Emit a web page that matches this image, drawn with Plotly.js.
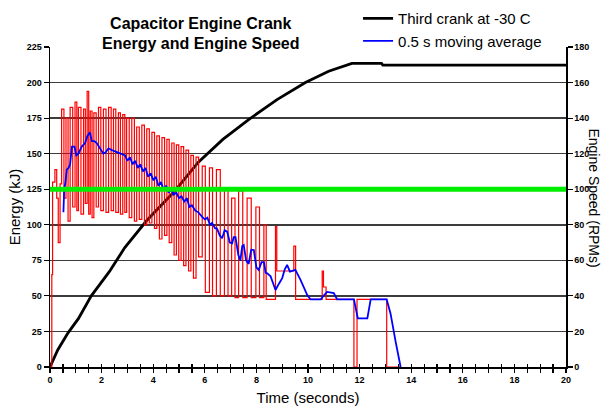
<!DOCTYPE html>
<html>
<head>
<meta charset="utf-8">
<script src="https://cdn.plot.ly/plotly-3.0.1.min.js"></script>
<style>html,body{margin:0;padding:0;background:#fff;}#chart{width:603px;height:408px;}</style>
</head>
<body>
<div id="chart"></div>
<script>
// Energy (kJ), third crank at -30 C
const energyT = [0, 0.1, 0.3, 0.7, 1.1, 1.6, 2.3, 2.9, 3.75, 4.8, 5.75, 6.7, 7.7, 8.8, 9.9, 10.8, 11.7, 12.85, 12.9, 20];
const energyV = [0, 4, 12, 24, 34, 50, 67, 84, 103, 123, 144, 160, 174, 188, 200, 208, 213.5, 213.5, 212.3, 212.3];

// Engine speed (RPM), raw
const speedT = [0, 0.07, 0.10, 0.19, 0.26, 0.32, 0.39, 0.45, 0.54, 0.62, 0.70, 0.78, 0.88, 0.97, 1.04, 1.10, 1.20, 1.30, 1.37, 1.44,
  1.50, 1.56, 1.63, 1.70, 1.79, 1.88, 1.97, 2.07, 2.17, 2.27, 2.37, 2.46, 2.55, 2.65, 2.73, 2.82, 2.90, 2.97, 3.07, 3.17,
  3.27, 3.36, 3.46, 3.56, 3.66, 3.75, 3.85, 3.95, 4.05, 4.14, 4.24, 4.34, 4.44, 4.53, 4.62, 4.72, 4.81, 4.90, 4.99, 5.08,
  5.18, 5.27, 5.37, 5.46, 5.56, 5.66, 5.76, 5.90, 6.02, 6.18, 6.30, 6.45, 6.60, 6.76, 6.90, 7.04, 7.17, 7.31, 7.47, 7.64,
  7.80, 7.98, 8.12, 8.29, 8.38, 8.74, 8.79, 9.45, 9.52, 10.55, 10.60, 10.70, 11.78, 11.90, 13.05, 13.6];
const speedV = [0, 52, 104, 111, 95, 70, 103, 145, 95, 140, 82, 146, 90, 149, 88, 146, 86, 145, 92, 155,
  86, 144, 84, 143, 90, 146, 88, 145, 87, 146, 88, 145, 87, 143, 86, 142, 87, 140, 84, 140,
  82, 135, 83, 136, 80, 134, 81, 132, 78, 130, 72, 129, 74, 128, 70, 126, 63, 125, 60, 124,
  57, 122, 54, 119, 50, 118, 62, 113, 42, 112, 40, 111, 40, 100, 40, 95, 39, 99, 39, 95,
  39, 90, 39, 80, 38, 79, 54, 68, 38, 54, 45, 38, 0, 38, 0, 0];

// 0.5 s moving average (RPM)
const avgT = [0.52, 0.55, 0.60, 0.65, 0.72, 0.78, 0.85, 0.95, 1.02, 1.10, 1.23, 1.36, 1.45, 1.55, 1.62, 1.72, 1.81, 1.95, 2.07, 2.17,
  2.27, 2.40, 2.59, 2.72, 2.91, 3.00, 3.10, 3.20, 3.30, 3.40, 3.50, 3.60, 3.70, 3.80, 3.90, 4.01, 4.10, 4.20, 4.30, 4.40,
  4.50, 4.60, 4.70, 4.79, 4.90, 5.00, 5.10, 5.20, 5.31, 5.40, 5.50, 5.63, 5.75, 5.89, 6.00, 6.10, 6.20, 6.28, 6.40, 6.47,
  6.58, 6.67, 6.77, 6.87, 6.97, 7.06, 7.12, 7.19, 7.30, 7.38, 7.45, 7.51, 7.60, 7.70, 7.80, 7.90, 8.00, 8.09, 8.20, 8.29,
  8.36, 8.42, 8.55, 8.65, 8.74, 8.88, 9.00, 9.10, 9.19, 9.30, 9.40, 9.51, 9.71, 9.85, 9.97, 10.10, 10.49, 10.60, 10.74, 11.00,
  11.13, 11.78, 11.85, 11.93, 12.30, 12.36, 12.43, 13.05, 13.20, 13.40, 13.59];
const avgV = [87, 100, 104, 111, 112, 114, 124, 124, 119, 120, 124, 126, 130, 132, 127, 127, 126, 123, 120, 121,
  123, 122, 121, 120, 119, 116, 118, 114, 116, 112, 114, 110, 112, 107, 109, 105, 107, 102, 104, 100,
  102, 98, 100, 97, 98, 95, 96, 93, 95, 90, 91, 88, 87, 84.6, 83, 84, 80, 81, 78, 78,
  74, 72.4, 77, 76, 70, 69.6, 73, 73, 63, 60, 68, 68.6, 60, 58, 66, 65.8, 56, 54.5, 59, 59,
  53, 52.7, 51, 47, 43.3, 47, 50, 55, 57.4, 53.6, 54, 54.6, 49, 44, 40.5, 38, 38, 40, 42.2, 41.6,
  38, 38, 33, 27.4, 27.4, 33, 38, 38, 30, 14, 0];

// Reference level (RPM)
const refT = [0, 20];
const refV = [100, 100];

const legendNames = ["Third crank at -30 C", "0.5 s moving average"];

const traces = [
  {x: speedT, y: speedV, xaxis: 'x', yaxis: 'y2', mode: 'lines', line: {color: '#ff0000', width: 1.2, shape: 'hv'}, showlegend: false},
  {x: avgT, y: avgV, xaxis: 'x', yaxis: 'y2', mode: 'lines', name: legendNames[1], line: {color: '#0000ff', width: 1.8}, legendrank: 2},
  {x: refT, y: refV, xaxis: 'x2', yaxis: 'y2', mode: 'lines', line: {color: '#00ee00', width: 5}, showlegend: false, hoverinfo: 'skip'},
  {x: energyT, y: energyV, xaxis: 'x', yaxis: 'y', mode: 'lines', name: legendNames[0], line: {color: '#000000', width: 2.8}, legendrank: 1}
];

const FAM = 'Liberation Sans, Arial, sans-serif';
const tickFont = {family: FAM, size: 9, color: '#000', weight: 'bold'};
const titleFont = {family: FAM, size: 15, color: '#000'};

const layout = {
  width: 603, height: 408,
  margin: {l: 50, r: 37, t: 47, b: 41, autoexpand: false},
  paper_bgcolor: '#fff', plot_bgcolor: '#fff',
  title: {text: 'Capacitor Engine Crank<br>Energy and Engine Speed', x: 0.333, xref: 'container', xanchor: 'center', y: 0.93, yref: 'container', yanchor: 'top',
    font: {family: FAM, size: 16, color: '#000', weight: 'bold'}},
  showlegend: true,
  legend: {x: 0.597, y: 1.14, xref: 'paper', yref: 'paper', xanchor: 'left', yanchor: 'top', bgcolor: 'rgba(0,0,0,0)',
    font: {family: FAM, size: 15, color: '#000'}, itemwidth: 30, tracegroupgap: 0, traceorder: 'normal'},
  xaxis: {range: [0, 20], tickmode: 'linear', tick0: 0, dtick: 2, ticks: 'outside', ticklen: 4, tickwidth: 1.2, tickcolor: '#000',
    minor: {tickmode: 'linear', tick0: 0, dtick: 0.5, ticks: 'outside', ticklen: 4, tickwidth: 1.2, tickcolor: '#000', showgrid: false},
    showline: true, linecolor: '#000', linewidth: 1.5, showgrid: false, zeroline: false, tickfont: tickFont,
    title: {text: 'Time (seconds)', font: titleFont, standoff: 8}, fixedrange: true},
  xaxis2: {range: [0, 20], overlaying: 'x', anchor: 'y', side: 'bottom', tickmode: 'linear', tick0: 0, dtick: 0.5, ticks: 'inside', ticklen: 3,
    tickwidth: 1.2, tickcolor: '#000', showticklabels: false, showgrid: false, zeroline: false, showline: false},
  yaxis: {range: [0, 225], tickmode: 'linear', tick0: 0, dtick: 25, ticks: 'outside', ticklen: 5, tickwidth: 1.2, tickcolor: '#000',
    showline: true, linecolor: '#000', linewidth: 1.5, showgrid: true, gridcolor: '#3c3c3c', gridwidth: 1.5, zeroline: false,
    tickfont: tickFont, title: {text: 'Energy (kJ)', font: titleFont, standoff: 2}},
  yaxis2: {range: [0, 180], overlaying: 'y', side: 'right', tickmode: 'linear', tick0: 0, dtick: 20, ticks: 'outside', ticklen: 5,
    tickwidth: 1.2, tickcolor: '#000', showline: true, linecolor: '#000', linewidth: 1.5, showgrid: false, zeroline: false, tickfont: tickFont},
  annotations: [{text: 'Engine Speed (RPMs)', textangle: 90, xref: 'paper', yref: 'paper', x: 1.0, xshift: 28, y: 0.53, showarrow: false,
    xanchor: 'center', yanchor: 'middle', font: {family: FAM, size: 14, color: '#000'}}]
};

Plotly.newPlot('chart', traces, layout, {staticPlot: true, displayModeBar: false});
</script>
</body>
</html>
